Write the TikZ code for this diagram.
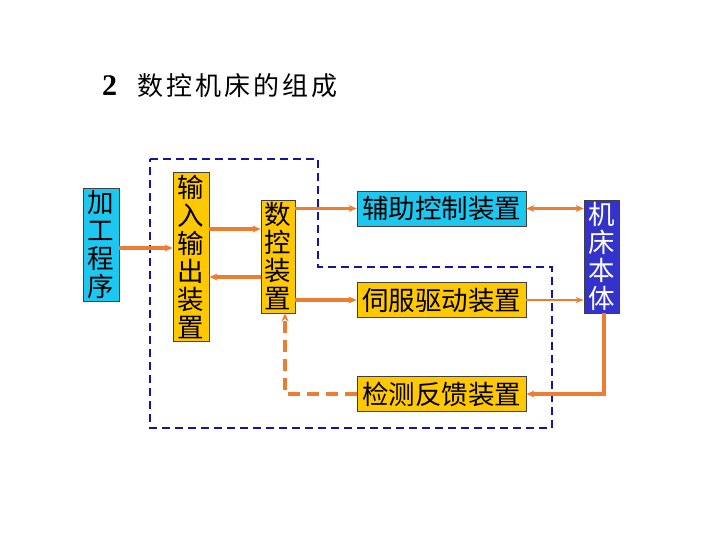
\documentclass[tikz,border=0pt]{standalone}
\usepackage{fontspec}
\setmainfont{Liberation Serif}
\newfontfamily\cjk{Noto Sans CJK SC}
\usetikzlibrary{arrows.meta}
\definecolor{cyanbox}{RGB}{28,200,240}
\definecolor{goldbox}{RGB}{255,200,0}
\definecolor{bluebox}{RGB}{51,51,204}
\definecolor{arrowc}{RGB}{237,125,49}
\definecolor{dashblue}{RGB}{20,20,160}
\tikzset{
  box/.style={draw=black!75, line width=0.8pt, inner sep=0pt, align=center,
    font=\cjk\fontsize{26.5}{28}\selectfont},
  vbox/.style={box, minimum width=36pt},
  hbox/.style={box, minimum width=169pt, minimum height=35pt},
  tip/.style={},
  arr/.style={draw=arrowc, line width=3.2pt, -{Stealth[length=8pt,width=7pt]}},
  thinarr/.style={draw=arrowc, line width=1.8pt, -{Stealth[length=8pt,width=6pt]}},
  darr/.style={draw=arrowc, line width=3.2pt, {Stealth[length=8pt,width=7pt]}-{Stealth[length=8pt,width=7pt]}},
  dasharr/.style={draw=arrowc, line width=3.2pt, dash pattern=on 12pt off 7pt, -{Stealth[length=8pt,width=7pt]}},
  frame/.style={draw=dashblue, line width=2.2pt, dash pattern=on 8pt off 5pt}
}
\begin{document}
\begin{tikzpicture}[x=1pt,y=-1pt]
\useasboundingbox (0,0) rectangle (720,540);
% title
\node[anchor=west, inner sep=0pt, font=\fontsize{30}{30}\selectfont\bfseries] (num) at (102,86) {2};
\node[anchor=west, inner sep=0pt, font=\cjk\fontsize{26}{26}\selectfont\addfontfeature{LetterSpace=12}] (title) at (137,86) {数控机床的组成};
% frame
\draw[frame] (150,159) -- (318,159) -- (318,267) -- (552,267) -- (552,428) -- (150,428) -- cycle;
% boxes
\node[vbox, fill=cyanbox, minimum height=113pt] (prog) at (101,244.5) {加\\工\\程\\序};
\node[vbox, fill=goldbox, minimum height=169pt] (io) at (191,256.5) {输\\入\\输\\出\\装\\置};
\node[vbox, fill=goldbox, minimum width=34pt, minimum height=113pt] (cnc) at (278,256.5) {数\\控\\装\\置};
\node[hbox, fill=cyanbox] (aux) at (441.5,208.5) {辅助控制装置};
\node[hbox, fill=goldbox] (servo) at (441.5,300) {伺服驱动装置};
\node[hbox, fill=goldbox] (det) at (441.5,394) {检测反馈装置};
\node[vbox, fill=bluebox, text=white, minimum width=35pt, minimum height=113pt] (mach) at (601.5,256.5) {机\\床\\本\\体};
% connectors
\coordinate (p1) at ([yshift=-3.5pt]prog.east);
\draw[arr] (p1) -- (p1 -| io.west);
\coordinate (p2) at ([yshift=27.5pt]io.east);
\draw[arr] (p2) -- (p2 -| cnc.west);
\coordinate (p3) at ([yshift=-20.5pt]cnc.west);
\draw[arr] (p3) -- (p3 -| io.east);
\draw[arr] (cnc.east |- aux.west) -- (aux.west);
\draw[darr] (aux.east) -- (aux.east -| mach.west);
\draw[arr] (cnc.east |- servo.west) -- (servo.west);
\draw[thinarr] (servo.east) -- (servo.east -| mach.west);
\coordinate (m1) at ([xshift=2.5pt]mach.south);
\draw[arr] (m1) |- (det.east);
\coordinate (c1) at ([xshift=7pt]cnc.south);
\draw[dasharr] (det.west) -| (c1);
\end{tikzpicture}
\end{document}
